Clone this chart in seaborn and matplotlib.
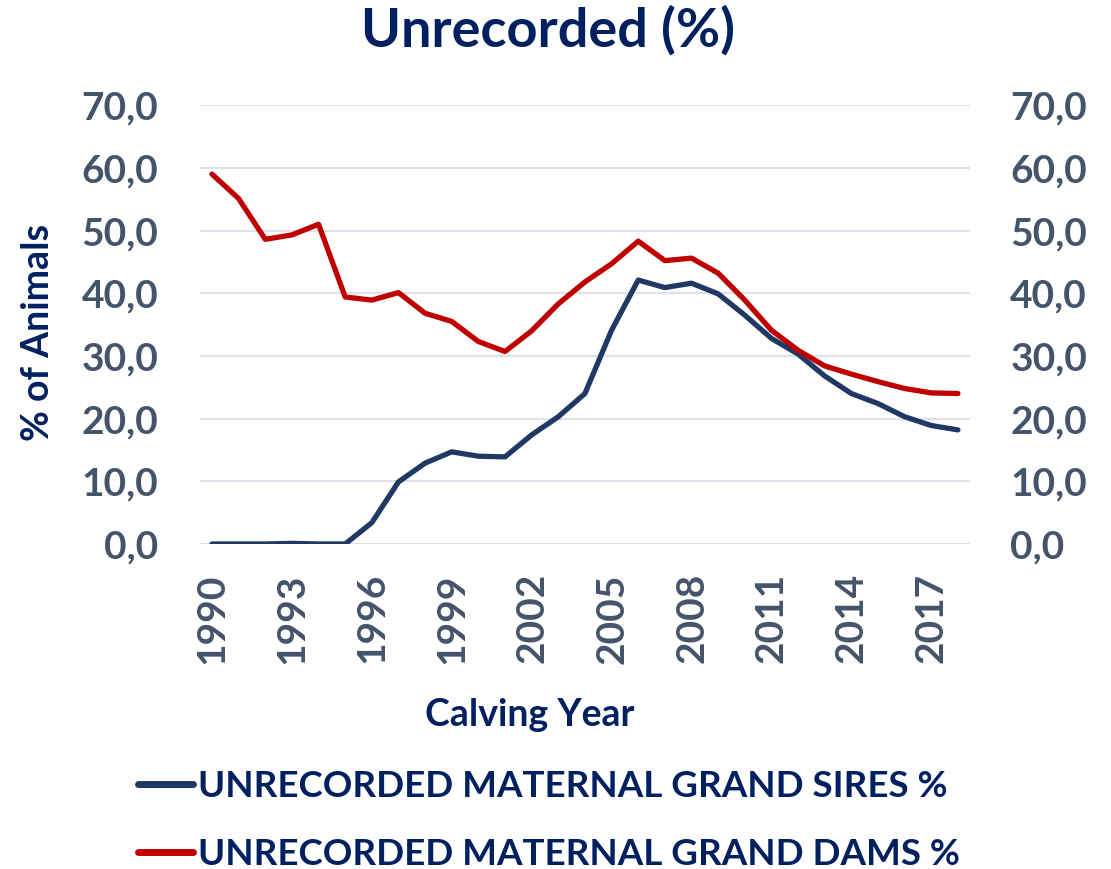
import matplotlib
matplotlib.use("Agg")
import matplotlib.pyplot as plt
import seaborn as sns
from matplotlib.lines import Line2D

years = list(range(1990, 2019))
sires = [0.0, 0.0, 0.0, 0.1, 0.0, 0.0, 3.4, 9.9, 12.9, 14.7, 14.0, 13.9, 17.4, 20.3, 24.0,
         34.1, 42.1, 40.9, 41.6, 39.9, 36.5, 32.8, 30.3, 26.8, 24.0, 22.4, 20.3, 18.9, 18.2]
dams = [59.0, 55.1, 48.6, 49.3, 51.0, 39.4, 38.9, 40.1, 36.8, 35.5, 32.3, 30.7, 34.0, 38.3, 41.8,
        44.7, 48.3, 45.2, 45.6, 43.2, 38.9, 34.1, 30.9, 28.4, 27.1, 25.9, 24.8, 24.1, 24.0]
labels = ["UNRECORDED MATERNAL GRAND SIRES %", "UNRECORDED MATERNAL GRAND DAMS %"]
yticks = [0, 10, 20, 30, 40, 50, 60, 70]
xticks = list(range(1990, 2018, 3))

NAVY = "#002060"
BLUE = "#203864"
RED = "#C00000"
TICK = "#44546A"

sns.set_style("white")
plt.rcParams['font.family'] = ['Lato', 'DejaVu Sans']
plt.rcParams['font.weight'] = 'bold'

fig = plt.figure(figsize=(11.11, 8.69), dpi=100)
ax = fig.add_axes([0.18, 0.374, 0.693, 0.505])

sns.lineplot(x=years, y=sires, ax=ax, color=BLUE, linewidth=3.8, solid_capstyle="round")
sns.lineplot(x=years, y=dams, ax=ax, color=RED, linewidth=3.8, solid_capstyle="round")

ytl = [f"{v:.1f}".replace(".", ",") for v in yticks]
ax.set_xlim(1989.55, 2018.45)
ax.set_ylim(0, 70)
ax.set_yticks(yticks)
ax.set_yticklabels(ytl)
ax.set_xticks(xticks)
ax.set_xticklabels([str(x) for x in xticks], rotation=90)
ax.grid(axis="y", color="#DDE2EA", linewidth=1.5)
ax.set_axisbelow(True)
ax.tick_params(axis="y", length=0, pad=30, labelsize=28, labelcolor=TICK)
ax.tick_params(axis="x", length=0, pad=21, labelsize=28, labelcolor=TICK)
for s in ax.spines.values():
    s.set_visible(False)

# right hand axis, same scale
ax2 = ax.twinx()
ax2.set_ylim(0, 70)
ax2.set_yticks(yticks)
ax2.set_yticklabels(ytl)
ax2.tick_params(axis="y", length=0, pad=29, labelsize=28, labelcolor=TICK)
for s in ax2.spines.values():
    s.set_visible(False)

fig.text(0.493, 0.965, "Unrecorded (%)", ha="center", va="center", fontsize=39, color=NAVY, fontweight="bold")
fig.text(0.477, 0.177, "Calving Year", ha="center", va="center", fontsize=27, color=NAVY, fontweight="bold")
fig.text(0.034, 0.617, "% of Animals", ha="center", va="center", rotation=90, fontsize=27, color=NAVY, fontweight="bold")

handles = [Line2D([0], [0], color=BLUE, lw=5, solid_capstyle="round"),
           Line2D([0], [0], color=RED, lw=5, solid_capstyle="round")]
leg = fig.legend(handles, labels, loc="upper left", bbox_to_anchor=(0.094, 0.152),
                 frameon=False, fontsize=26.5, handlelength=1.5, handletextpad=0.15,
                 labelspacing=0.95)
for t in leg.get_texts():
    t.set_color(NAVY)
    t.set_fontweight("bold")

fig.savefig("out.png", dpi=100)
